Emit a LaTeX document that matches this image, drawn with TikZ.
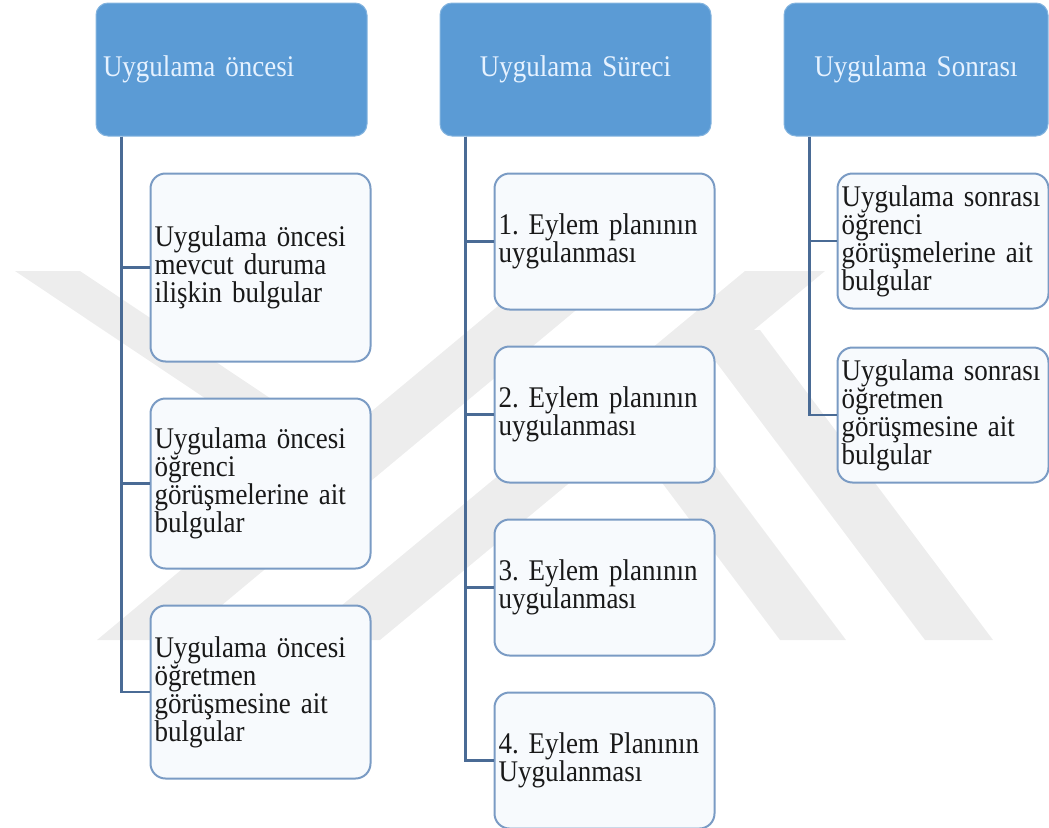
\documentclass[tikz,border=0pt]{standalone}
\usepackage{fontspec}
\setmainfont{Liberation Serif}
\newfontfamily\boxfont[FakeStretch=0.9]{Liberation Serif}
\usetikzlibrary{positioning}
\definecolor{hdrblue}{HTML}{5B9BD5}
\definecolor{hdrtext}{HTML}{E6F2FF}
\definecolor{itemedge}{HTML}{7A9BC4}
\definecolor{itemfill}{HTML}{F7FAFD}
\definecolor{linkblue}{HTML}{4A6B95}
\definecolor{wmark}{HTML}{EDEDED}

\begin{document}
\begin{tikzpicture}[x=1pt,y=-1pt,
  hdr/.style={rectangle,draw=hdrblue!75!white,line width=1pt,fill=hdrblue,rounded corners=12pt,minimum height=133pt,inner xsep=7pt,text=hdrtext,font=\boxfont\frenchspacing\fontsize{30}{28}\selectfont},
  item/.style={rectangle,draw=itemedge,line width=2pt,fill=itemfill,rounded corners=15pt,inner xsep=4pt,align=left,text=black!90,font=\boxfont\frenchspacing\fontsize{30}{28}\selectfont},
  link/.style={draw=linkblue,line width=2.5pt},
  node distance=35pt
]
\useasboundingbox (0,0) rectangle (1049,827);
% watermark
\fill[wmark] (15,271) -- (80,271) -- (370,465) -- (305,465) -- cycle;
\fill[wmark] (97,640) -- (180,640) -- (623,271) -- (540,271) -- cycle;
\fill[wmark] (300,640) -- (380,640) -- (825,271) -- (745,271) -- cycle;
\fill[wmark] (615,420) -- (681,420) -- (846,640) -- (780,640) -- cycle;
\fill[wmark] (692,330) -- (760,330) -- (993,640) -- (925,640) -- cycle;

\node[hdr,align=left,text width=257pt] (pre) at (231.5,69.5) {\raisebox{-3pt}{Uygulama öncesi}};
\node[hdr,align=center,text width=257pt,right=72pt of pre] (during) {\raisebox{-3pt}{Uygulama Süreci}};
\node[hdr,align=center,text width=250pt,right=72pt of during] (post) {\raisebox{-3pt}{Uygulama Sonrası}};

\node[item,text width=212pt,minimum height=188pt,below right=36pt and 54pt of pre.south west] (pre1) {Uygulama öncesi\\mevcut duruma\\ilişkin bulgular};
\node[item,text width=212pt,minimum height=170pt,below=of pre1] (pre2) {Uygulama öncesi\\öğrenci\\görüşmelerine ait\\bulgular};
\node[item,text width=212pt,minimum height=173pt,below=of pre2] (pre3) {Uygulama öncesi\\öğretmen\\görüşmesine ait\\bulgular};

\node[item,text width=212pt,minimum height=136pt,below right=36pt and 54pt of during.south west] (act1) {1. Eylem planının\\uygulanması};
\node[item,text width=212pt,minimum height=136pt,below=of act1] (act2) {2. Eylem planının\\uygulanması};
\node[item,text width=212pt,minimum height=136pt,below=of act2] (act3) {3. Eylem planının\\uygulanması};
\node[item,text width=212pt,minimum height=136pt,below=of act3] (act4) {4. Eylem Planının\\Uygulanması};

\node[item,text width=203pt,minimum height=135pt,below right=36pt and 53pt of post.south west] (post1) {Uygulama sonrası\\öğrenci\\görüşmelerine ait\\bulgular};
\node[item,text width=203pt,minimum height=135pt,below=37pt of post1] (post2) {Uygulama sonrası\\öğretmen\\görüşmesine ait\\bulgular};

\foreach \n in {pre1,pre2,pre3}
  \draw[link] ([xshift=26pt]pre.south west) |- (\n.west);
\foreach \n in {act1,act2,act3,act4}
  \draw[link] ([xshift=26pt]during.south west) |- (\n.west);
\foreach \n in {post1,post2}
  \draw[link] ([xshift=26pt]post.south west) |- (\n.west);
\end{tikzpicture}
\end{document}
